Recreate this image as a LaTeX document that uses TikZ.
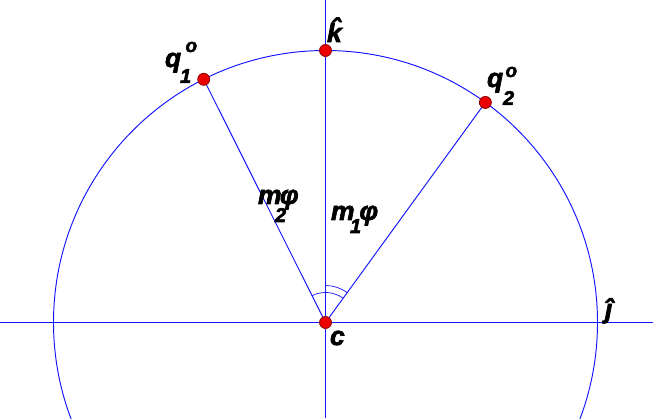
\documentclass[tikz,border=0pt]{standalone}
\usepackage{fontspec}
\setmainfont{Liberation Sans}
\newfontfamily\lblfont{Liberation Sans}[BoldItalicFeatures={FakeBold=2.5}]
\definecolor{lnc}{RGB}{20,20,255}
\definecolor{dotfill}{RGB}{235,0,0}
\definecolor{dotedge}{RGB}{140,0,0}
\begin{document}
\begin{tikzpicture}[x=1pt,y=1pt,
  ln/.style={draw=lnc,line width=0.95pt},
  anglemark/.style={draw=lnc,line width=0.7pt},
  dot/.style={circle,fill=dotfill,draw=dotedge,line width=0.8pt,minimum size=12pt,inner sep=0pt},
  big/.style={inner sep=0pt,outer sep=0pt,anchor=base west,font=\lblfont\fontsize{26.5}{27}\selectfont\bfseries\itshape},
  small/.style={inner sep=0pt,outer sep=0pt,anchor=base west,font=\lblfont\fontsize{20}{20}\selectfont\bfseries\itshape},
  tiny/.style={inner sep=0pt,outer sep=0pt,anchor=base west,font=\lblfont\fontsize{19}{19}\selectfont\bfseries\itshape}]
\useasboundingbox (0,0) rectangle (653,418);
\coordinate (c) at (325.5,95.5);
\coordinate (L) at (0,95.5);
\coordinate (R) at (653,95.5);
\coordinate (B) at (325.5,0);
\coordinate (T) at (325.5,418);
\path (c) ++(90:272) coordinate (k);
\path (c) ++(116.6:272) coordinate (q1);
\path (c) ++(54:272) coordinate (q2);
\path (c) ++(116.6:30) coordinate (a1);
\path (c) ++(90:37) coordinate (a2);
\begin{scope}
\clip (0,0) rectangle (653,418);
\draw[ln] (c) circle[radius=272];
\end{scope}
\draw[ln] (L) -- (R);
\draw[ln] (B) -- (T);
\draw[ln] (c) -- (q1);
\draw[ln] (c) -- (q2);
\draw[anglemark] (a1) arc[start angle=116.6,end angle=54,radius=30];
\draw[anglemark] (a2) arc[start angle=90,end angle=54,radius=37];
\node[dot] (dc) at (c) {};
\node[dot] (dk) at (k) {};
\node[dot] (dq1) at (q1) {};
\node[dot] (dq2) at (q2) {};
% labels
\node[big] (lk) at (327,376) {\^k};
\node[big] (lc) at (330,73) {c};
\node[big] (lj) at (605,100) {\^{\j}};
\node[big] (lq1) at (165,351) {q};
\node[small] (lq1s) at (180,335) {1};
\node[tiny] (lq1o) at (185.5,366) {o};
\node[big] (lq2) at (487,331) {q};
\node[small] (lq2s) at (503,313) {2};
\node[tiny] (lq2o) at (505.5,341) {o};
\node[big] (lm2) at (258,214) {m};
\node[small] (lm2s) at (275,196) {2};
\node[big] (lm2p) at (280,214) {φ};
\node[big] (lm1) at (331,198) {m};
\node[small] (lm1s) at (350,185) {1};
\node[big] (lm1p) at (359.5,198) {φ};
\end{tikzpicture}
\end{document}
